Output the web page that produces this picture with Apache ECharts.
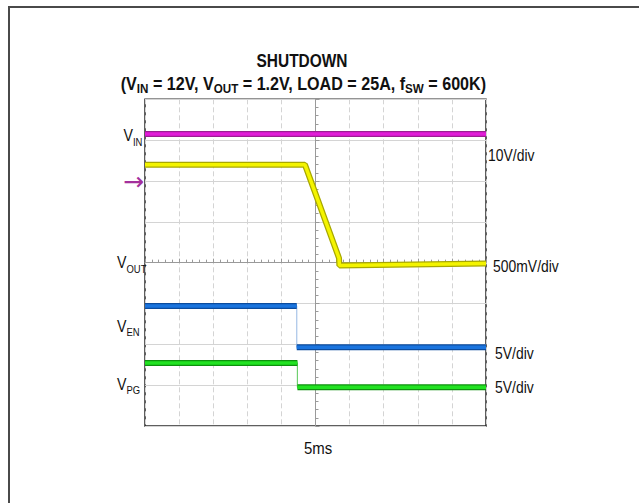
<!DOCTYPE html>
<html>
<head>
<meta charset="utf-8">
<script src="https://cdn.jsdelivr.net/npm/echarts@6/dist/echarts.min.js"></script>
<style>
html,body{margin:0;padding:0;background:#ffffff;}
#chart{width:639px;height:503px;}
</style>
</head>
<body>
<div id="chart"></div>
<script>
// Horizontal axis: divisions (5 ms/div), centre of screen = 0
const timeRange = [-5, 5];
const levelRange = [-4, 4];
// Channel traces (time in divisions, level in screen divisions)
const vinTime = [-5, 5];
const vinLevel = [3.15, 3.15];
const voutTime = [-5, -0.31, 0.69, 0.70, 5];
const voutLevel = [2.40, 2.40, 0.11, -0.07, -0.02];
const venTime = [-5, -0.55, -0.55, 5];
const venLevel = [-1.06, -1.06, -2.07, -2.07];
const vpgTime = [-5, -0.53, -0.53, 5];
const vpgLevel = [-2.46, -2.46, -3.05, -3.05];
// Text
const titleText = 'SHUTDOWN';
const subtitleParts = ['(V', 'IN', ' = 12V, V', 'OUT', ' = 1.2V, LOAD = 25A, f', 'SW', ' = 600K)'];
const channelMain = ['V', 'V', 'V', 'V'];
const channelSub = ['IN', 'OUT', 'EN', 'PG'];
const scaleLabels = ['10V/div', '500mV/div', '5V/div', '5V/div'];
const timeLabel = '5ms';
const markerText = '\u2192';

const SANS = '"Liberation Sans",Arial,sans-serif';

function traceSeries(xs, ys, core, edge, thin) {
  const pts = xs.map((x, i) => [x, ys[i]]);
  const broken = [];
  pts.forEach((p, i) => {
    if (i > 0 && p[0] === pts[i - 1][0]) broken.push([p[0], '-']);
    broken.push(p);
  });
  const base = {type: 'line', symbol: 'none', silent: true, animation: false, connectNulls: false};
  return [
    Object.assign({}, base, {data: pts, lineStyle: {color: thin, width: 1.2}, z: 2}),
    Object.assign({}, base, {data: broken, lineStyle: {color: edge, width: 6}, z: 3}),
    Object.assign({}, base, {data: broken, lineStyle: {color: core, width: 3.5}, z: 4})
  ];
}

function tok(size, weight, lh, va) {
  const o = {fontFamily: SANS, fontSize: size, fontWeight: weight, fill: '#111', lineHeight: lh};
  if (va) o.verticalAlign = va;
  return o;
}
function gText(text, x, y, sx, style) {
  return {
    type: 'text', x: x, y: y, scaleX: sx, silent: true, z: 50,
    style: Object.assign({text: text}, style)
  };
}
function subLabel(main, sub, x, y) {
  return gText('{v|' + main + '}{s|' + sub + '}', x, y, 0.86, {
    align: 'left', textAlign: 'left', verticalAlign: 'top', textVerticalAlign: 'top',
    rich: {v: tok(16.5, 'normal', 24), s: tok(11, 'normal', 11, 'bottom')}
  });
}
function plainLabel(text, x, y, sx, align) {
  return gText(text, x, y, sx, {
    align: align, textAlign: align, verticalAlign: 'middle', textVerticalAlign: 'middle',
    fontFamily: SANS, fontSize: 17, fontWeight: 'normal', fill: '#111'
  });
}

const subtitleRich = subtitleParts.map((p, i) => (i % 2 ? '{s|' : '{m|') + p + '}').join('');

const chart = echarts.init(document.getElementById('chart'), null, {renderer: 'svg'});
const option = {
  animation: false,
  backgroundColor: '#ffffff',
  graphic: [
    {type: 'rect', x: 9, y: 7, shape: {x: 0, y: 0, width: 700, height: 600},
     style: {fill: 'none', stroke: '#4a4a4a', lineWidth: 2}, silent: true, z: -10},
    gText(titleText, 302, 61.5, 0.86, {
      align: 'center', textAlign: 'center', verticalAlign: 'middle', textVerticalAlign: 'middle',
      fontFamily: SANS, fontSize: 18, fontWeight: 'bold', fill: '#111'
    }),
    gText(subtitleRich, 303.4, 73.5, 0.895, {
      align: 'center', textAlign: 'center', verticalAlign: 'top', textVerticalAlign: 'top',
      rich: {m: tok(18, 'bold', 22), s: tok(13, 'bold', 13, 'bottom')}
    }),
    subLabel(channelMain[0], channelSub[0], 123.5, 123.4),
    subLabel(channelMain[1], channelSub[1], 117, 250.5),
    subLabel(channelMain[2], channelSub[2], 117, 314),
    subLabel(channelMain[3], channelSub[3], 117, 372),
    plainLabel(scaleLabels[0], 488, 155, 0.82, 'left'),
    plainLabel(scaleLabels[1], 493, 266, 0.82, 'left'),
    plainLabel(scaleLabels[2], 495, 353.3, 0.82, 'left'),
    plainLabel(scaleLabels[3], 495, 386.7, 0.82, 'left'),
    plainLabel(timeLabel, 318, 448, 0.88, 'center'),
    gText(markerText, 123, 181.7, 1, {
      align: 'left', textAlign: 'left', verticalAlign: 'middle', textVerticalAlign: 'middle',
      fontFamily: '"DejaVu Sans","Noto Sans",sans-serif', fontSize: 25, fontWeight: 'normal', fill: '#a4309c'
    })
  ],
  grid: {
    left: 145, top: 99.3, width: 341, height: 326.7,
    show: true, borderColor: '#2a2a2a', borderWidth: 1.5, backgroundColor: 'transparent'
  },
  xAxis: {
    type: 'value', min: timeRange[0], max: timeRange[1], interval: 1,
    axisLine: {show: true, onZero: true, lineStyle: {color: '#9a9a9a', width: 1}},
    axisTick: {show: true, inside: true, length: 4, lineStyle: {color: '#9a9a9a'}},
    minorTick: {show: true, splitNumber: 5, length: 3, lineStyle: {color: '#9a9a9a'}},
    axisLabel: {show: false},
    splitLine: {show: true, lineStyle: {color: '#d4d4d4', width: 1, type: [5, 3]}}
  },
  yAxis: {
    type: 'value', min: levelRange[0], max: levelRange[1], interval: 1,
    axisLine: {show: true, onZero: true, lineStyle: {color: '#9a9a9a', width: 1}},
    axisTick: {show: true, inside: true, length: 4, lineStyle: {color: '#9a9a9a'}},
    minorTick: {show: true, splitNumber: 5, length: 3, lineStyle: {color: '#9a9a9a'}},
    axisLabel: {show: false},
    splitLine: {show: true, lineStyle: {color: '#d4d4d4', width: 1, type: 'solid'}}
  },
  series: [].concat(
    traceSeries(vinTime, vinLevel, '#e21cd8', '#9c1e92', '#e8a0e0'),
    traceSeries(voutTime, voutLevel, '#f4f400', '#a8a800', '#e0e080'),
    traceSeries(venTime, venLevel, '#1a74de', '#0c4c9e', '#a8c4e8'),
    traceSeries(vpgTime, vpgLevel, '#22e222', '#0e900e', '#70d070')
  )
};
chart.setOption(option);
</script>
</body>
</html>
